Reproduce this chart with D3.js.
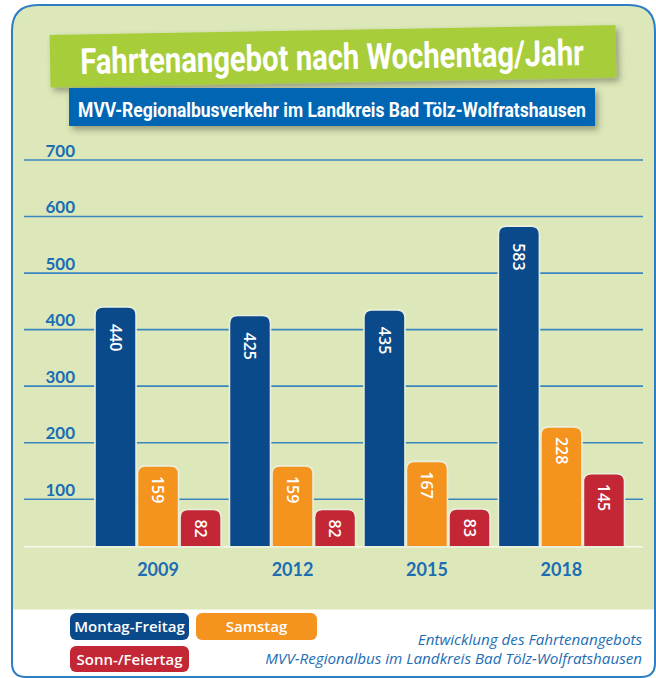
<!DOCTYPE html>
<html lang="de">
<head>
<meta charset="UTF-8">
<title>Fahrtenangebot nach Wochentag/Jahr</title>
<style>
  html, body { margin: 0; padding: 0; background: #fff; }
  svg { display: block; }
</style>
</head>
<body>
<script src="https://d3js.org/d3.v7.min.js"></script>
<script>

    const width = 656;
    const height = 678;

    // data
    const years = ["2009", "2012", "2015", "2018"];
    const series = ["Montag-Freitag", "Samstag", "Sonn-/Feiertag"];
    const montagFreitag = [440, 425, 435, 583];
    const samstag = [159, 159, 167, 228];
    const sonnFeiertag = [82, 82, 83, 145];
    const yTicks = [100, 200, 300, 400, 500, 600, 700];

    const title = "Fahrtenangebot nach Wochentag/Jahr";
    const subtitle = "MVV-Regionalbusverkehr im Landkreis Bad Tölz-Wolfratshausen";
    const note = ["Entwicklung des Fahrtenangebots", "MVV-Regionalbus im Landkreis Bad Tölz-Wolfratshausen"];

    const values = [montagFreitag, samstag, sonnFeiertag];
    const rows = years.map((yr, i) => ({ year: yr, bars: series.map((s, j) => ({ key: s, value: values[j][i] })) }));

    const colors = d3.scaleOrdinal().domain(series).range(["#0b4a8a", "#f5931f", "#c32634"]);
    const textBlue = "#1d6db4";
    const bgGreen = "#dce8b9";

    // scales
    const x0 = d3.scaleBand().domain(years).range([95, 624.5]).paddingInner(0.062);
    const x1 = d3.scaleBand().domain(series).range([0, x0.bandwidth()]).paddingInner(0.035);
    const y = d3.scaleLinear().domain([0, 700]).range([555.8, 160]);
    const baseY = 546.7;
    const gridX0 = 24, gridX1 = 643;

    const svg = d3.select("body").append("svg")
        .attr("width", width)
        .attr("height", height)
        .attr("viewBox", [0, 0, width, height]);

    const defs = svg.append("defs");
    const shadow = defs.append("filter").attr("id", "shadow")
        .attr("x", "-10%").attr("y", "-30%").attr("width", "120%").attr("height", "170%");
    shadow.append("feDropShadow")
        .attr("dx", 3).attr("dy", 4).attr("stdDeviation", 3)
        .attr("flood-color", "#404030").attr("flood-opacity", 0.45);

    // panel with rounded corners (bigger at top)
    const L = 12, T = 5, R = 655, B = 677, rt = 26, rb = 14;
    const panelPath = `M${L},${T + rt} Q${L},${T} ${L + rt},${T} L${R - rt},${T} Q${R},${T} ${R},${T + rt}
        L${R},${B - rb} Q${R},${B} ${R - rb},${B} L${L + rb},${B} Q${L},${B} ${L},${B - rb} Z`;

    defs.append("clipPath").attr("id", "panelClip").append("path").attr("d", panelPath);

    svg.append("path").attr("d", panelPath).attr("fill", "#fff");
    svg.append("rect")
        .attr("clip-path", "url(#panelClip)")
        .attr("x", 0).attr("y", 0).attr("width", width).attr("height", 609.5)
        .attr("fill", bgGreen);

    // squeeze a text horizontally to a given width (condensed look)
    function condense(sel, cx, cy, targetW) {
        const w = sel.node().getComputedTextLength();
        sel.attr("transform", `translate(${cx},${cy}) scale(${targetW / w},1)`);
    }

    // title banner
    const titleG = svg.append("g").attr("transform", "rotate(-1, 333, 56)");
    titleG.append("rect")
        .attr("x", 50).attr("y", 30).attr("width", 566).attr("height", 52.5)
        .attr("fill", "#a7cd3a")
        .attr("filter", "url(#shadow)");
    titleG.append("text")
        .attr("text-anchor", "middle")
        .attr("font-family", "Roboto, 'Noto Sans', sans-serif")
        .attr("font-weight", "bold")
        .attr("font-size", 36)
        .attr("fill", "#fff")
        .text(title)
        .call(condense, 332, 69.5, 504);

    // subtitle banner
    svg.append("rect")
        .attr("x", 69).attr("y", 88).attr("width", 526).attr("height", 38)
        .attr("fill", "#0066b3")
        .attr("filter", "url(#shadow)");
    svg.append("text")
        .attr("text-anchor", "middle")
        .attr("font-family", "Roboto, 'Noto Sans', sans-serif")
        .attr("font-weight", "bold")
        .attr("font-size", 21)
        .attr("fill", "#fff")
        .text(subtitle)
        .call(condense, 332, 117, 508);

    // grid + tick labels
    const grid = svg.append("g");
    grid.selectAll("line")
        .data(yTicks)
        .join("line")
        .attr("x1", gridX0).attr("x2", gridX1)
        .attr("y1", d => y(d)).attr("y2", d => y(d))
        .attr("stroke", "#3a86bf")
        .attr("stroke-width", 1.6);
    grid.selectAll("text")
        .data(yTicks)
        .join("text")
        .attr("x", 45.5)
        .attr("y", d => y(d) - 3.5)
        .attr("font-family", "Lato, sans-serif")
        .attr("font-weight", "bold")
        .attr("font-size", 17)
        .attr("fill", textBlue)
        .text(d => d);

    // baseline
    svg.append("line")
        .attr("x1", gridX0).attr("x2", gridX1)
        .attr("y1", baseY).attr("y2", baseY)
        .attr("stroke", "#f7f9ef")
        .attr("stroke-width", 1.5);

    // bars with rounded tops
    const r = 8;
    function barPath(x, w, top, bottom) {
        return `M${x},${bottom} L${x},${top + r} Q${x},${top} ${x + r},${top} L${x + w - r},${top}
            Q${x + w},${top} ${x + w},${top + r} L${x + w},${bottom} Z`;
    }

    const groups = svg.append("g")
        .selectAll("g")
        .data(rows)
        .join("g")
        .attr("transform", d => `translate(${x0(d.year)},0)`);

    groups.selectAll("path")
        .data(d => d.bars)
        .join("path")
        .attr("d", d => barPath(x1(d.key), x1.bandwidth(), y(d.value), baseY))
        .attr("fill", d => colors(d.key))
        .attr("stroke", "#e9efdc")
        .attr("stroke-width", 1.6);

    // value labels, tall bars get a larger top offset
    groups.selectAll("text")
        .data(d => d.bars)
        .join("text")
        .attr("transform", d => `translate(${x1(d.key) + x1.bandwidth() / 2},${y(d.value) + (d.value > 300 ? 17 : 10)}) rotate(90)`)
        .attr("dy", "0.35em")
        .attr("font-family", "'Open Sans', sans-serif")
        .attr("font-weight", 600)
        .attr("font-size", 16)
        .attr("fill", "#fff")
        .text(d => d.value);

    // year labels
    svg.append("g")
        .selectAll("text")
        .data(years)
        .join("text")
        .attr("x", d => x0(d) + x0.bandwidth() / 2)
        .attr("y", 576)
        .attr("text-anchor", "middle")
        .attr("font-family", "Lato, sans-serif")
        .attr("font-weight", "bold")
        .attr("font-size", 18)
        .attr("fill", textBlue)
        .text(d => d);

    // legend
    const legendPos = [
        { x: 70, y: 613, w: 119, h: 27 },
        { x: 196, y: 613, w: 121, h: 27 },
        { x: 70, y: 646, w: 119, h: 26 }
    ];
    const legend = svg.append("g")
        .selectAll("g")
        .data(series)
        .join("g")
        .attr("transform", (d, i) => `translate(${legendPos[i].x},${legendPos[i].y})`);
    legend.append("rect")
        .attr("width", (d, i) => legendPos[i].w)
        .attr("height", (d, i) => legendPos[i].h)
        .attr("rx", 6)
        .attr("fill", d => colors(d));
    legend.append("text")
        .attr("x", (d, i) => legendPos[i].w / 2)
        .attr("y", (d, i) => legendPos[i].h / 2 + 5.5)
        .attr("text-anchor", "middle")
        .attr("font-family", "'Open Sans', sans-serif")
        .attr("font-weight", 600)
        .attr("font-size", 15)
        .attr("fill", "#fff")
        .text(d => d);

    // note
    svg.append("g")
        .selectAll("text")
        .data(note)
        .join("text")
        .attr("x", 642)
        .attr("y", (d, i) => 645 + i * 18.5)
        .attr("text-anchor", "end")
        .attr("font-family", "'Open Sans', sans-serif")
        .attr("font-style", "italic")
        .attr("font-size", 15.2)
        .attr("fill", textBlue)
        .text(d => d);

    // panel border on top
    svg.append("path")
        .attr("d", panelPath)
        .attr("fill", "none")
        .attr("stroke", "#2e7ec3")
        .attr("stroke-width", 2);

</script>
</body>
</html>
